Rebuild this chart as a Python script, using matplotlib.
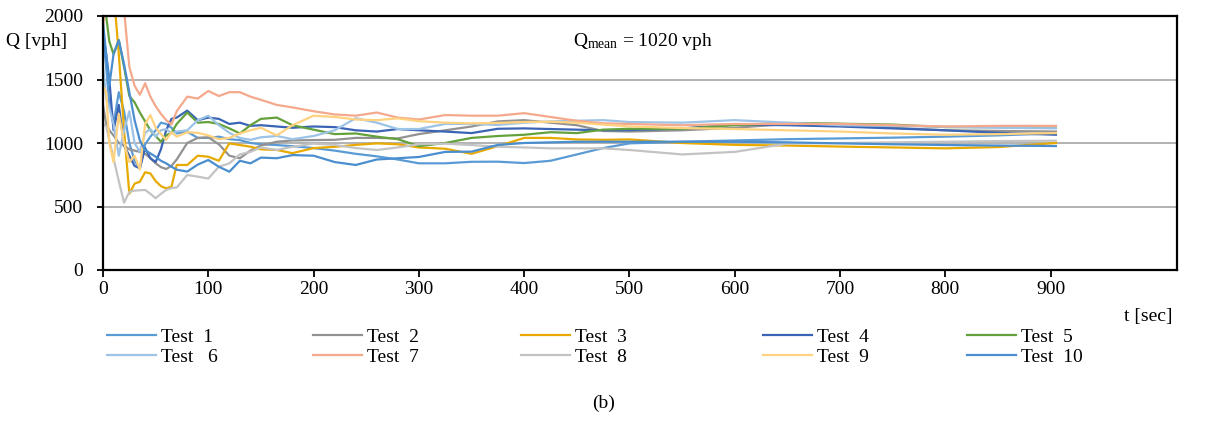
import matplotlib
matplotlib.use('Agg')
import matplotlib.pyplot as plt

# ---- data ----
t = [0, 3, 6, 10, 15, 20, 25, 30, 35, 40, 45, 50, 55, 60, 65, 70, 80, 90, 100, 110,
     120, 130, 140, 150, 165, 180, 200, 220, 240, 260, 280, 300, 325, 350, 375, 400,
     425, 450, 475, 500, 550, 600, 650, 700, 750, 800, 850, 905]

test1 = [1850, 1600, 1300, 1150, 1400, 1250, 1000, 860, 800, 990,
         1050, 1100, 1160, 1150, 1120, 1076, 1089, 1040, 1040, 1050,
         1030, 1023, 1000, 990, 984, 975, 960, 940, 915, 895,
         870, 840, 840, 852, 853, 842, 860, 910, 960, 997,
         1010, 1020, 1030, 1036, 1042, 1050, 1060, 1076]
test2 = [1300, 1150, 1100, 1060, 1000, 980, 950, 940, 930, 915,
         880, 840, 810, 795, 820, 870, 1000, 1040, 1045, 990,
         900, 880, 940, 980, 1010, 1020, 1023, 1025, 1040, 1040,
         1036, 1070, 1100, 1130, 1170, 1180, 1160, 1140, 1095, 1090,
         1100, 1120, 1150, 1150, 1120, 1100, 1095, 1090]
test3 = [2500, 2500, 2400, 2200, 1700, 1100, 600, 680, 695, 770,
         760, 700, 660, 643, 656, 827, 827, 900, 892, 860,
         997, 984, 971, 950, 945, 920, 960, 970, 985, 997,
         990, 965, 955, 915, 975, 1040, 1040, 1028, 1025, 1028,
         1000, 985, 980, 972, 965, 958, 968, 1000]
test4 = [1870, 1700, 1500, 1100, 1300, 980, 900, 820, 800, 960,
         880, 850, 950, 1100, 1190, 1200, 1255, 1180, 1200, 1190,
         1150, 1160, 1135, 1140, 1130, 1120, 1130, 1125, 1100, 1090,
         1110, 1100, 1090, 1078, 1112, 1115, 1110, 1105, 1100, 1102,
         1115, 1145, 1140, 1130, 1115, 1100, 1080, 1065]
test5 = [2100, 2000, 1800, 1700, 1810, 1600, 1370, 1320, 1240, 1170,
         1100, 1055, 1010, 1060, 1080, 1150, 1240, 1160, 1165, 1150,
         1115, 1075, 1140, 1190, 1200, 1140, 1105, 1070, 1075, 1050,
         1030, 975, 1000, 1040, 1055, 1065, 1085, 1078, 1105, 1112,
         1112, 1140, 1158, 1152, 1145, 1125, 1125, 1130]
test6 = [1600, 1350, 1280, 1150, 900, 1100, 1250, 1000, 930, 1080,
         1110, 1050, 1100, 1110, 1076, 1090, 1100, 1180, 1215, 1140,
         1080, 1040, 1025, 1045, 1055, 1030, 1055, 1100, 1195, 1160,
         1110, 1110, 1150, 1150, 1142, 1160, 1170, 1175, 1180, 1165,
         1160, 1180, 1160, 1140, 1135, 1128, 1120, 1115]
test7 = [1900, 2200, 2300, 2300, 2200, 2050, 1600, 1450, 1380, 1470,
         1365, 1290, 1230, 1180, 1145, 1250, 1365, 1350, 1410, 1370,
         1400, 1400, 1365, 1340, 1300, 1280, 1250, 1225, 1215, 1240,
         1200, 1185, 1220, 1215, 1215, 1235, 1205, 1175, 1155, 1150,
         1140, 1150, 1150, 1150, 1140, 1130, 1135, 1135]
test8 = [1150, 1130, 1023, 880, 700, 530, 615, 625, 628, 630,
         600, 565, 600, 630, 645, 650, 748, 735, 720, 813,
         840, 910, 930, 965, 945, 970, 995, 985, 960, 945,
         965, 990, 995, 984, 971, 965, 958, 958, 958, 945,
         910, 930, 995, 1000, 1005, 1010, 1015, 1018]
test9 = [1450, 1400, 1000, 850, 1230, 1000, 850, 900, 790, 1150,
         1220, 1120, 1070, 1025, 1085, 1050, 1085, 1080, 1060, 1030,
         1040, 1075, 1100, 1120, 1060, 1140, 1215, 1205, 1185, 1180,
         1194, 1172, 1160, 1155, 1158, 1165, 1168, 1160, 1145, 1130,
         1118, 1110, 1100, 1090, 1075, 1065, 1070, 1078]
test10 = [1950, 1700, 1450, 1700, 1810, 1620, 1400, 1180, 1020, 945,
          918, 892, 860, 840, 813, 790, 775, 830, 866, 813,
          774, 860, 840, 885, 880, 905, 900, 850, 827, 870,
          880, 890, 930, 932, 985, 1000, 1005, 1010, 1010, 1010,
          1010, 1010, 1005, 997, 990, 984, 980, 976]

labels = ['Test  1', 'Test  2', 'Test  3', 'Test  4', 'Test  5',
          'Test   6', 'Test  7', 'Test  8', 'Test  9', 'Test  10']
x_ticks = [0, 100, 200, 300, 400, 500, 600, 700, 800, 900]
y_ticks = [0, 500, 1000, 1500, 2000]

colors = ['#5B9BD5', '#929292', '#E8AA00', '#3A64B5', '#64A13C',
          '#9DC3E6', '#F4A98C', '#C3C3C3', '#FFD27F', '#4A8ECF']

plt.rcParams['font.family'] = ['Liberation Serif', 'DejaVu Serif']
plt.rcParams['mathtext.fontset'] = 'custom'
plt.rcParams['mathtext.rm'] = 'Liberation Serif'
plt.rcParams['mathtext.it'] = 'Liberation Serif:italic'

W, H = 1208, 425
fig = plt.figure(figsize=(W / 100, H / 100), dpi=100)
ax = fig.add_axes([103 / W, 1 - 270 / H, (1177 - 103) / W, (270 - 16) / H])

series = [test1, test2, test3, test4, test5, test6, test7, test8, test9, test10]
lines = []
for ys, lab, c in zip(series, labels, colors):
    ln, = ax.plot(t, ys, color=c, lw=1.6, label=lab, solid_joinstyle='round')
    lines.append(ln)

ax.set_xlim(0, 1020)
ax.set_ylim(0, 2000)
ax.set_xticks(x_ticks)
ax.set_yticks(y_ticks)
ax.grid(axis='y', color='#A6A6A6', lw=1.2)
ax.grid(axis='x', visible=False)
ax.set_axisbelow(True)
for s in ax.spines.values():
    s.set_color('black')
    s.set_linewidth(1.6)
ax.tick_params(axis='x', direction='out', length=5, width=1.3, labelsize=14, pad=3)
ax.tick_params(axis='y', direction='out', length=4.5, width=1.3, labelsize=14, pad=10)

cols_x = [107, 313, 521, 763, 967]
for i, x in enumerate(cols_x):
    fig.legend([lines[i], lines[i + 5]], [labels[i], labels[i + 5]],
               loc='center left', bbox_to_anchor=(x / W, 1 - 347 / H),
               frameon=False, fontsize=14, handlelength=2.5, handletextpad=0.3,
               labelspacing=0.12, borderpad=0, borderaxespad=0)

fig.text(6 / W, 1 - 42 / H, 'Q [vph]', ha='left', va='center', fontsize=14)
fig.text(1172 / W, 1 - 316 / H, 't [sec]', ha='right', va='center', fontsize=14)
fig.text(604 / W, 1 - 403 / H, '(b)', ha='center', va='center', fontsize=14)
fig.text(643 / W, 1 - 42 / H, r'Q$_{\mathrm{mean}}$ = 1020 vph', ha='center',
         va='center', fontsize=14)

fig.savefig('out.png', dpi=100)
